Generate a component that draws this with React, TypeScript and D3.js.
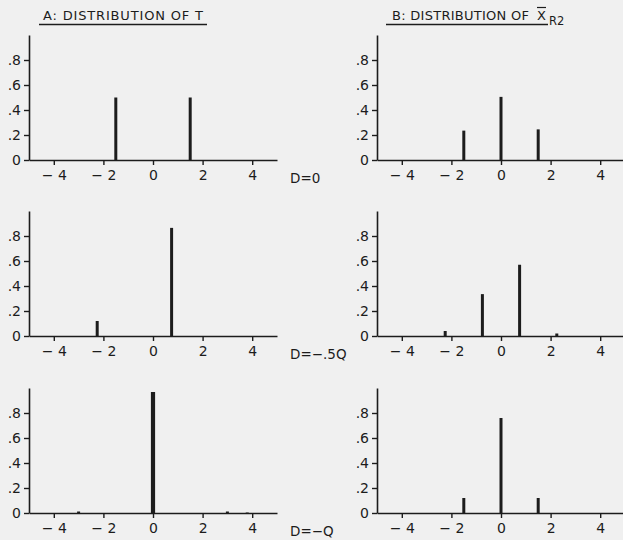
import React, { useRef, useEffect } from 'react';
import * as d3 from 'd3';

// each panel: [x, probability] spikes
const tD0 = [[-1.5, 0.5], [1.5, 0.5]];
const xD0 = [[-1.5, 0.235], [0, 0.505], [1.5, 0.245]];
const tD05 = [[-2.25, 0.12], [0.75, 0.865]];
const xD05 = [[-2.25, 0.04], [-0.75, 0.335], [0.75, 0.57], [2.25, 0.02]];
const tD1 = [[-3, 0.012], [0, 0.968], [3, 0.012], [3.8, 0.004]];
const xD1 = [[-1.5, 0.12], [0, 0.76], [1.5, 0.12]];

const dLabels = ["D=0", "D=\u2212.5Q", "D=\u2212Q"];
const yTicks = [0, 0.2, 0.4, 0.6, 0.8];
const yTickLabels = ["0", ".2", ".4", ".6", ".8"];
const xTicks = [-4, -2, 0, 2, 4];

const INK = "#1c1c1c";
const FONT = "DejaVu Sans, sans-serif";

export default function App() {
  const ref = useRef<SVGSVGElement>(null);

  useEffect(() => {
    const svg = d3.select(ref.current);
    svg.selectAll("*").remove();

    svg.append("rect").attr("width", 623).attr("height", 540).attr("fill", "#f0f0f0");

    const rows = [
      { base: 160, a: tD0, b: xD0, label: dLabels[0] },
      { base: 336, a: tD05, b: xD05, label: dLabels[1] },
      { base: 513, a: tD1, b: xD1, label: dLabels[2] },
    ];
    const cols = [29, 377];

    const drawPanel = (left, base, data, barW) => {
      const x = d3.scaleLinear().domain([-5, 5]).range([left, left + 248]);
      const y = d3.scaleLinear().domain([0, 1]).range([base, base - 125]);
      const g = svg.append("g");

      const ax = g.append("g")
        .attr("transform", `translate(0,${base})`)
        .call(d3.axisBottom(x).tickValues(xTicks).tickSize(5).tickSizeOuter(0).tickPadding(5)
          .tickFormat(d => (d < 0 ? "\u2212 " + Math.abs(d) : String(d))));
      ax.select(".domain").attr("stroke", INK).attr("stroke-width", 1.6);
      ax.selectAll(".tick line").attr("stroke", INK).attr("stroke-width", 1.4);
      ax.selectAll(".tick text").attr("fill", INK).attr("font-family", FONT).attr("font-size", 14);

      const ay = g.append("g")
        .attr("transform", `translate(${left},0)`)
        .call(d3.axisLeft(y).tickValues(yTicks).tickSize(5).tickSizeOuter(0).tickPadding(3)
          .tickFormat((d, i) => yTickLabels[i]));
      ay.select(".domain").attr("stroke", INK).attr("stroke-width", 1.6);
      ay.selectAll(".tick line").attr("stroke", INK).attr("stroke-width", 1.4);
      ay.selectAll(".tick text").attr("fill", INK).attr("font-family", FONT).attr("font-size", 14);

      g.selectAll("line.spike")
        .data(data)
        .enter()
        .append("line")
        .attr("class", "spike")
        .attr("x1", d => x(d[0]))
        .attr("x2", d => x(d[0]))
        .attr("y1", y(0))
        .attr("y2", d => y(d[1]))
        .attr("stroke", INK)
        .attr("stroke-width", d => (d[1] > 0.9 ? barW + 1.2 : barW));
    };

    rows.forEach(r => {
      drawPanel(cols[0], r.base, r.a, 3);
      drawPanel(cols[1], r.base, r.b, 3);
      svg.append("text")
        .attr("x", 290)
        .attr("y", r.base + 23)
        .attr("fill", INK)
        .attr("font-family", FONT)
        .attr("font-size", 13.5)
        .text(r.label);
    });

    // titles
    svg.append("text")
      .attr("x", 43).attr("y", 20)
      .attr("fill", INK).attr("font-family", FONT).attr("font-size", 13)
      .attr("textLength", 160).attr("lengthAdjust", "spacing")
      .text("A: DISTRIBUTION OF T");
    svg.append("line").attr("x1", 39).attr("x2", 207).attr("y1", 24.5).attr("y2", 24.5)
      .attr("stroke", INK).attr("stroke-width", 1.4);

    svg.append("text")
      .attr("x", 392).attr("y", 20)
      .attr("fill", INK).attr("font-family", FONT).attr("font-size", 13)
      .attr("textLength", 137).attr("lengthAdjust", "spacing")
      .text("B: DISTRIBUTION OF");
    svg.append("text")
      .attr("x", 537).attr("y", 20)
      .attr("fill", INK).attr("font-family", FONT).attr("font-size", 13)
      .text("X");
    svg.append("line").attr("x1", 537).attr("x2", 546).attr("y1", 7.5).attr("y2", 7.5)
      .attr("stroke", INK).attr("stroke-width", 1.2);
    svg.append("text")
      .attr("x", 549).attr("y", 25)
      .attr("fill", INK).attr("font-family", FONT).attr("font-size", 11.5)
      .text("R2");
    svg.append("line").attr("x1", 386).attr("x2", 548).attr("y1", 24.5).attr("y2", 24.5)
      .attr("stroke", INK).attr("stroke-width", 1.4);
  }, []);

  return (
    <svg ref={ref} width={623} height={540}
      style={{ position: "absolute", left: 0, top: 0, display: "block" }} />
  );
}
